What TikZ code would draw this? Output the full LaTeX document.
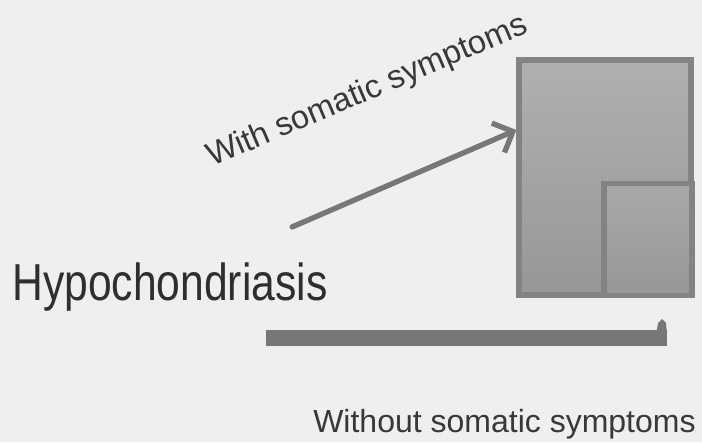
\documentclass[tikz,border=0pt]{standalone}
\usepackage{fontspec}
\setmainfont{Liberation Sans}
\usetikzlibrary{arrows.meta,positioning,calc}

\definecolor{paper}{HTML}{EFEFEF}
\definecolor{boxtop}{HTML}{B0B0B0}
\definecolor{boxbot}{HTML}{979797}
\definecolor{boxedge}{HTML}{838383}
\definecolor{linkgray}{HTML}{777777}
\definecolor{inkgray}{HTML}{2E2E2E}

\begin{document}
\begin{tikzpicture}[
  x=0.75pt, y=-0.75pt,
  outerbox/.style={
    rectangle, draw=boxedge, line width=4pt,
    top color=boxtop, bottom color=boxbot,
    minimum width=129pt, minimum height=176pt, inner sep=0pt
  },
  innerbox/.style={
    rectangle, draw=boxedge, line width=4pt,
    top color=boxtop!70!boxbot, bottom color=boxbot,
    minimum width=66pt, minimum height=84pt, inner sep=0pt
  },
  title/.style={
    font=\fontsize{39pt}{39pt}\selectfont, text=inkgray,
    inner sep=0pt, xscale=0.82
  },
  branch/.style={
    font=\fontsize{24.5pt}{24.5pt}\selectfont, text=inkgray!95!white,
    inner sep=0pt
  },
  link/.style={
    draw=linkgray, line width=4pt, line cap=round,
    -{Straight Barb[length=12pt, width=24pt, line width=4pt]}
  },
  bar/.style={draw=linkgray, line width=12pt},
]

% background and page size
\fill[paper] (0,0) rectangle (702,442);
\useasboundingbox (0,0) rectangle (702,442);

% boxes on the right
\node[outerbox] (withbox) at (605,177.5) {};
\node[innerbox] (withoutbox) at (648,239.5) {};

% labels
\node[title, anchor=base west] (hypo) at (12,300) {Hypochondriasis};
\node[branch, anchor=base west, rotate=23] (withlbl) at (212,167)
  {With somatic symptoms};
\node[branch, anchor=base west, font=\fontsize{24pt}{24pt}\selectfont]
  (withoutlbl) at (313,432) {Without somatic symptoms};

% connectors
\coordinate (withstart) at (292,227);
\coordinate (withtip) at (withbox.west |- 0,130);
\draw[link] (withstart) -- (withtip);

\coordinate (barstart) at (266,338);
\coordinate (barend) at (667,338);
\draw[bar] (barstart) -- (barend);
\fill[linkgray] ($(barend)+(-11,-3)$) -- ++(2,-12) -- ++(4,-4) -- ++(4,4) -- ++(1,12) -- cycle;

\end{tikzpicture}
\end{document}
